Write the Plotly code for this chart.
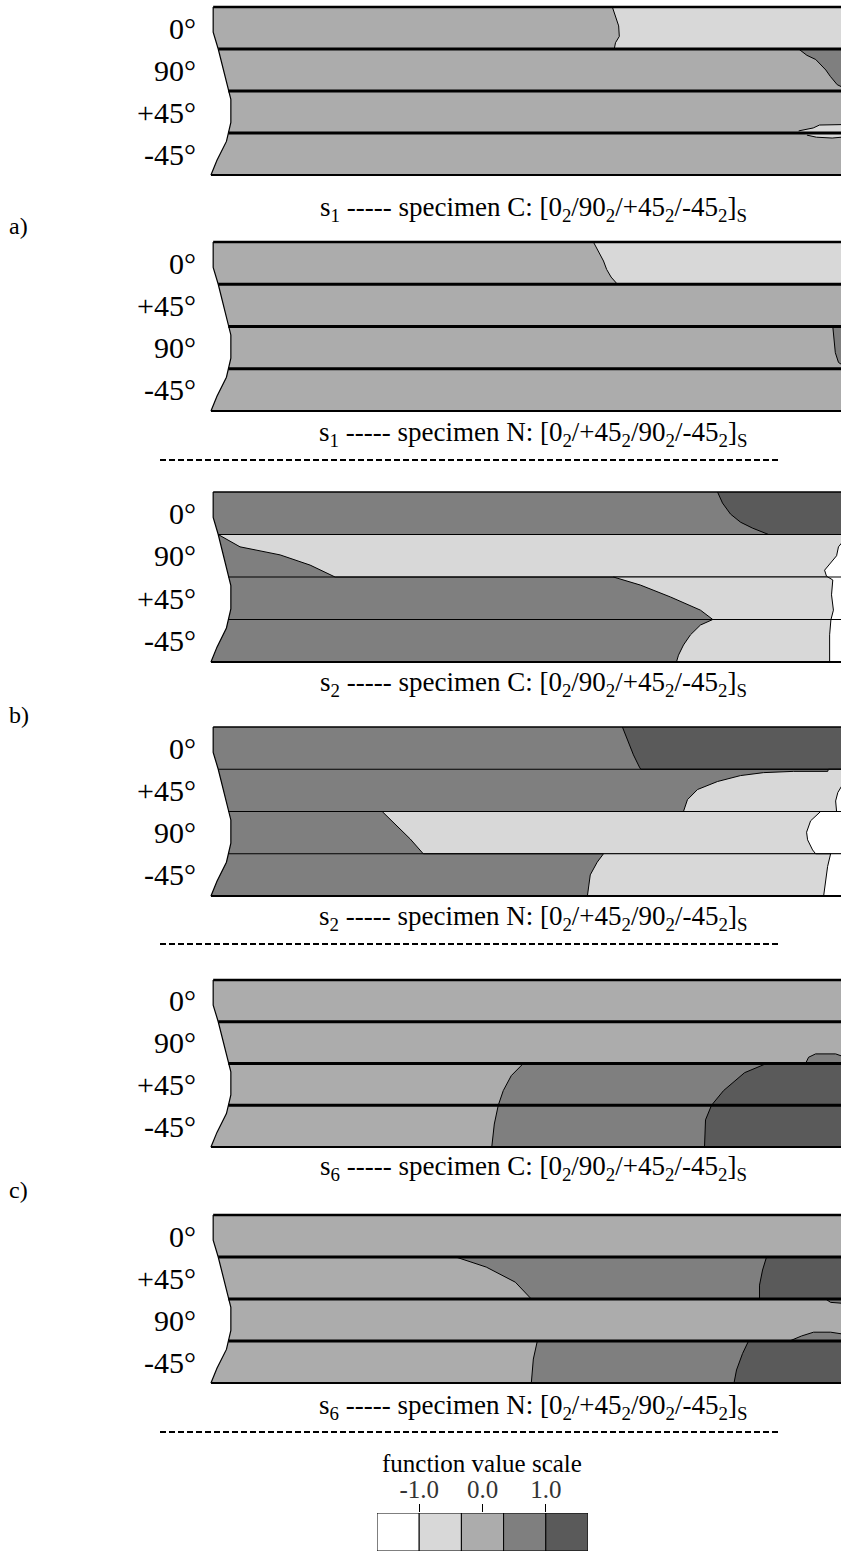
import plotly.graph_objects as go

W, H = 841, 1557

# grey levels of the function-value scale, lightest to darkest
LEVEL_COLORS = ["#ffffff", "#d8d8d8", "#acacac", "#7f7f7f", "#5a5a5a"]

# scale legend cells (centres on the value axis) and tick labels
SCALE_CENTERS = [-4 / 3, -2 / 3, 0.0, 2 / 3, 4 / 3]
SCALE_TICKS = [-1.0, 0.0, 1.0]
SCALE_TICK_TEXT = ["-1.0", "0.0", "1.0"]

# ply order (top to bottom) for the two stacking sequences
ORDER_C = ["0°", "90°", "+45°", "-45°"]
ORDER_N = ["0°", "+45°", "90°", "-45°"]

# concave free edge of the specimen: x (% of length) against thickness position (plies)
EDGE_Y = [0.0, 0.6, 1.0, 1.5, 2.0, 2.2, 2.75, 3.0, 3.2, 3.65, 4.0]
EDGE_X = [0.5, 0.5, 1.3, 2.1, 2.9, 3.3, 3.3, 2.9, 2.6, 1.1, 0.15]

# contour regions: (level, x along length %, y through thickness in ply units)
S1_C_BASE = 2
S1_C_PATCHES = [
    (1, [63.7, 64.2, 64.7, 64.8, 64.2, 64.0, 100, 100],
        [0.0, 0.2, 0.45, 0.7, 0.85, 1.0, 1.0, 0.0]),
    (3, [93.2, 94.5, 95.9, 96.8, 97.5, 98.2, 98.6, 99.3, 100, 100],
        [1.0, 1.15, 1.25, 1.4, 1.5, 1.65, 1.72, 1.85, 1.9, 1.0]),
    (1, [93.2, 95.5, 96.5, 100, 100, 98.5, 96.0, 94.5],
        [2.95, 2.88, 2.81, 2.8, 3.1, 3.12, 3.1, 3.05]),
]

S1_N_BASE = 2
S1_N_PATCHES = [
    (1, [60.7, 61.5, 62.3, 62.8, 63.5, 64.5, 100, 100],
        [0.0, 0.22, 0.45, 0.65, 0.83, 1.0, 1.0, 0.0]),
    (3, [98.6, 98.8, 99.0, 99.5, 100, 100],
        [2.0, 2.35, 2.62, 2.85, 2.9, 2.0]),
]

S2_C_BASE = 3
S2_C_PATCHES = [
    (4, [80.35, 81.14, 82.41, 83.99, 85.9, 88.43, 100, 100],
        [0.0, 0.26, 0.52, 0.71, 0.85, 1.0, 1.0, 0.0]),
    (1, [1.3, 4.75, 11.1, 15.85, 19.8, 100, 100],
        [1.0, 1.29, 1.48, 1.72, 2.0, 2.0, 1.0]),
    (1, [63.87, 68.15, 72.9, 77.65, 79.6, 77.65, 76.07, 74.96, 74.17, 73.85, 100, 100],
        [2.0, 2.19, 2.47, 2.78, 3.0, 3.13, 3.36, 3.6, 3.84, 4.0, 4.0, 2.0]),
    (0, [100, 99.5, 99.2, 98.3, 97.3, 97.6, 98.6, 98.4, 98.7, 98.3, 98.1, 98.1, 100],
        [1.2, 1.29, 1.5, 1.67, 1.84, 1.98, 2.07, 2.42, 2.78, 3.01, 3.36, 4.0, 4.0]),
]

S2_N_BASE = 3
S2_N_PATCHES = [
    (4, [65.29, 66.09, 67.04, 67.99, 68.2, 100, 100],
        [0.0, 0.31, 0.66, 0.95, 1.0, 1.0, 0.0]),
    (1, [74.96, 75.59, 77.18, 80.35, 83.99, 87.64, 92.4, 97.8, 97.9, 100, 100],
        [2.0, 1.72, 1.48, 1.29, 1.15, 1.08, 1.05, 1.05, 1.0, 1.0, 2.0]),
    (1, [27.26, 29.32, 31.7, 33.76, 100, 100],
        [2.0, 2.3, 2.65, 3.0, 3.0, 2.0]),
    (1, [62.3, 61.3, 60.2, 59.75, 100, 100],
        [3.0, 3.2, 3.5, 4.0, 4.0, 3.0]),
    (0, [96.67, 95.09, 94.45, 94.61, 95.4, 95.88, 100, 100],
        [2.0, 2.22, 2.49, 2.67, 2.91, 3.0, 3.0, 2.0]),
    (0, [98.26, 97.78, 97.15, 100, 100],
        [3.0, 3.3, 4.0, 4.0, 3.0]),
    (0, [100, 99.4, 99.05, 99.2, 100],
        [1.4, 1.55, 1.75, 2.0, 2.0]),
]

S6_C_BASE = 2
S6_C_PATCHES = [
    (3, [49.6, 47.7, 46.43, 45.64, 45.01, 44.61, 100, 100, 99.05, 95.88, 94.77, 94.29],
        [2.0, 2.29, 2.65, 3.0, 3.45, 4.0, 4.0, 1.82, 1.77, 1.77, 1.85, 2.0]),
    (4, [88.11, 84.63, 81.3, 79.4, 78.45, 78.29, 100, 100],
        [2.0, 2.22, 2.65, 3.0, 3.35, 4.0, 4.0, 2.0]),
]

S6_N_BASE = 2
S6_N_PATCHES = [
    (3, [38.91, 43.74, 48.34, 50.87, 100, 100],
        [1.0, 1.24, 1.6, 2.0, 2.0, 1.0]),
    (4, [88.11, 87.48, 87.0, 87.0, 100, 100],
        [1.0, 1.31, 1.67, 2.0, 2.0, 1.0]),
    (3, [97.46, 98.26, 100, 100],
        [2.0, 2.08, 2.1, 2.0]),
    (3, [51.82, 51.19, 50.87, 100, 100, 98.26, 95.56, 93.66, 91.76],
        [3.0, 3.43, 4.0, 4.0, 2.83, 2.79, 2.79, 2.88, 3.0]),
    (4, [85.26, 84.31, 83.36, 82.96, 100, 100],
        [3.0, 3.3, 3.69, 4.0, 4.0, 3.0]),
]

STRESS = ["1", "1", "2", "2", "6", "6"]
SPECIMEN = ["C", "N", "C", "N", "C", "N"]
ORDERS = [ORDER_C, ORDER_N, ORDER_C, ORDER_N, ORDER_C, ORDER_N]
BASES = [S1_C_BASE, S1_N_BASE, S2_C_BASE, S2_N_BASE, S6_C_BASE, S6_N_BASE]
PATCHES = [S1_C_PATCHES, S1_N_PATCHES, S2_C_PATCHES, S2_N_PATCHES,
           S6_C_PATCHES, S6_N_PATCHES]
GROUP_LABELS = ["a)", "b)", "c)"]

# ---- page layout (pixels from top-left) ----
PANEL_TOPBOT = [(7, 175), (242, 411), (492, 662), (727, 896), (980, 1147), (1215, 1383)]
# widths of ply-interface lines: top, inner, bottom
LINE_WIDTHS = [(2.5, 2.8, 2.2), (2.5, 2.8, 2.2), (1.6, 1.2, 2.0),
               (1.6, 1.2, 2.0), (2.5, 2.8, 2.2), (2.5, 2.8, 2.2)]
CAPTION_Y = [209, 434, 684, 918, 1168, 1407]
CAPTION_X = 533
GROUP_Y = [226, 715, 1190]
DASH_Y = [460, 944, 1432]
DASH_X = (160, 778)
X0_PX, X100_PX = 210, 841
AXIS_LEFT_PX = 200
PAD_PX = 3

SERIF = "Liberation Serif"

fig = go.Figure()
layout = dict(
    width=W, height=H, margin=dict(l=0, r=0, t=0, b=0),
    paper_bgcolor="white", plot_bgcolor="white", showlegend=False,
)

px_per_unit = (X100_PX - X0_PX) / 100.0
x_range = [-(X0_PX - AXIS_LEFT_PX) / px_per_unit, 99.9]


def edge_x_at(y):
    return EDGE_X[EDGE_Y.index(y)]


annotations = []
shapes = []

for i in range(6):
    n = i + 1
    xa, ya = f"x{n}", f"y{n}"
    top, bot = PANEL_TOPBOT[i]
    ply_px = (bot - top) / 4.0
    pad = PAD_PX / ply_px
    layout[f"xaxis{n}"] = dict(domain=[AXIS_LEFT_PX / W, 1.0], range=x_range,
                               visible=False, anchor=ya, fixedrange=True)
    layout[f"yaxis{n}"] = dict(
        domain=[1 - (bot + PAD_PX) / H, 1 - (top - PAD_PX) / H],
        range=[4 + pad, -pad], anchor=xa,
        tickvals=[0.5, 1.5, 2.5, 3.5], ticktext=ORDERS[i],
        tickfont=dict(family=SERIF, size=30, color="black"),
        showgrid=False, zeroline=False, showline=False, ticks="",
        ticklabelstandoff=3, fixedrange=True,
    )

    # whole cross-section at the base level
    fig.add_trace(go.Scatter(
        x=EDGE_X + [100.5, 100.5], y=EDGE_Y + [4.0, 0.0], mode="lines",
        fill="toself", fillcolor=LEVEL_COLORS[BASES[i]],
        line=dict(width=0), xaxis=xa, yaxis=ya, hoverinfo="skip"))

    # contour regions
    for level, xs, ys in PATCHES[i]:
        fig.add_trace(go.Scatter(
            x=xs, y=ys, mode="lines", fill="toself",
            fillcolor=LEVEL_COLORS[level], line=dict(color="black", width=1),
            xaxis=xa, yaxis=ya, hoverinfo="skip"))

    # free edge
    fig.add_trace(go.Scatter(
        x=EDGE_X, y=EDGE_Y, mode="lines", line=dict(color="black", width=1.2),
        xaxis=xa, yaxis=ya, hoverinfo="skip"))

    # ply interfaces and outer surfaces
    w_top, w_in, w_bot = LINE_WIDTHS[i]
    for k in range(5):
        w = w_top if k == 0 else (w_bot if k == 4 else w_in)
        fig.add_trace(go.Scatter(
            x=[edge_x_at(float(k)), 100.5], y=[float(k), float(k)], mode="lines",
            line=dict(color="black", width=w), xaxis=xa, yaxis=ya,
            hoverinfo="skip"))

    caption = (f"s<sub>{STRESS[i]}</sub> ----- specimen {SPECIMEN[i]}: ["
               + "/".join(
                   ("0" if o == "0°" else o.replace("°", "")) + "<sub>2</sub>"
                   for o in ORDERS[i])
               + "]<sub>S</sub>")
    annotations.append(dict(
        text=caption, x=CAPTION_X / W, y=1 - CAPTION_Y[i] / H,
        xref="paper", yref="paper", xanchor="center", yanchor="middle",
        showarrow=False, font=dict(family=SERIF, size=27, color="black")))

for label, gy in zip(GROUP_LABELS, GROUP_Y):
    annotations.append(dict(
        text=label, x=7 / W, y=1 - gy / H, xref="paper", yref="paper",
        xanchor="left", yanchor="middle", showarrow=False,
        font=dict(family=SERIF, size=24, color="black")))

for dy in DASH_Y:
    shapes.append(dict(
        type="line", xref="paper", yref="paper",
        x0=DASH_X[0] / W, x1=DASH_X[1] / W, y0=1 - dy / H, y1=1 - dy / H,
        line=dict(color="black", width=2, dash="6px,3px")))

# function value scale
layout["xaxis7"] = dict(
    domain=[377 / W, 588 / W], range=[-5 / 3, 5 / 3], anchor="y7", side="top",
    tickvals=SCALE_TICKS, ticktext=SCALE_TICK_TEXT, ticks="outside", ticklen=8,
    tickcolor="black", tickwidth=1, showgrid=False, zeroline=False,
    showline=False, fixedrange=True, ticklabelstandoff=-4,
    tickfont=dict(family=SERIF, size=25, color="#333333"))
layout["yaxis7"] = dict(domain=[1 - 1551 / H, 1 - 1513 / H], range=[0, 1],
                        anchor="x7", visible=False, fixedrange=True)
fig.add_trace(go.Bar(
    x=SCALE_CENTERS, y=[1] * len(SCALE_CENTERS), width=2 / 3,
    marker=dict(color=LEVEL_COLORS, line=dict(color="black", width=1)),
    xaxis="x7", yaxis="y7", hoverinfo="skip"))
annotations.append(dict(
    text="function value scale", x=482 / W, y=1 - 1463 / H, xref="paper",
    yref="paper", xanchor="center", yanchor="middle", showarrow=False,
    font=dict(family=SERIF, size=25, color="black")))

layout["annotations"] = annotations
layout["shapes"] = shapes
fig.update_layout(**layout)

fig.write_html("out.html")
